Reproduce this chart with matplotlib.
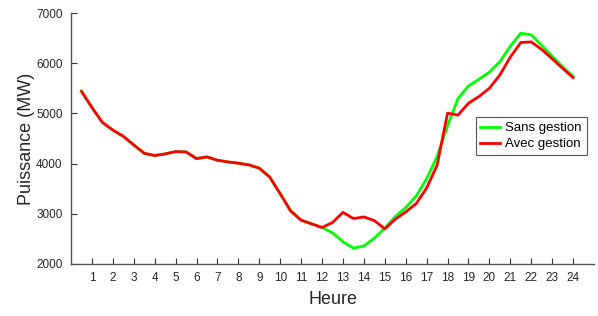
import numpy as np
import matplotlib
matplotlib.use('Agg')
import matplotlib.pyplot as plt

plt.rcParams['font.family'] = ['Liberation Sans', 'DejaVu Sans']

# demi-heures de 0.5 a 24
heures = np.arange(1, 49) * 0.5

commun = [5440, 5118, 4820, 4668, 4543, 4371, 4206, 4160, 4193, 4239, 4232, 4100,
          4133, 4067, 4034, 4008, 3975, 3909, 3731, 3400, 3057, 2872, 2800, 2727]

sans_gestion = commun + [2621, 2443, 2317, 2357, 2515, 2713, 2945, 3123, 3354, 3698,
                         4140, 4754, 5296, 5547, 5679, 5824, 6029, 6339, 6597, 6564,
                         6353, 6141, 5930, 5738]

avec_gestion = commun + [2826, 3030, 2905, 2938, 2865, 2700, 2892, 3037, 3202, 3513,
                         3968, 5005, 4966, 5203, 5336, 5501, 5766, 6122, 6412, 6425,
                         6273, 6089, 5897, 5712]

fig = plt.figure(figsize=(5.98, 3.16), dpi=100)
ax = fig.add_axes([71 / 598, 1 - 264 / 316, 523 / 598, 251 / 316])

ax.plot(heures, sans_gestion, color='#00ff00', linewidth=2, label='Sans gestion')
ax.plot(heures, avec_gestion, color='#ff0000', linewidth=2, label='Avec gestion')

ax.set_xlim(0, 25)
ax.set_ylim(2000, 7000)
ax.set_xticks(np.arange(1, 25))
ax.set_yticks(np.arange(2000, 7001, 1000))
ax.tick_params(direction='in', length=4, width=0.8, color='#333333',
               labelsize=8.5, labelcolor='#262626')
ax.tick_params(axis='x', pad=6)
ax.tick_params(axis='y', pad=6)

for s in ['top', 'right']:
    ax.spines[s].set_visible(False)
for s in ['left', 'bottom']:
    ax.spines[s].set_color('#555555')
    ax.spines[s].set_linewidth(1)

ax.set_xlabel('Heure', fontsize=13, color='#262626', labelpad=5)
ax.set_ylabel('Puissance (MW)', fontsize=13, color='#262626', labelpad=1)

leg = ax.legend(loc='upper left', bbox_to_anchor=(0.774, 0.584), fontsize=9.5,
                fancybox=False, framealpha=1, edgecolor='#555555',
                handlelength=1.5, borderpad=0.35, labelspacing=0.3,
                handletextpad=0.4, borderaxespad=0)
leg.get_frame().set_linewidth(0.8)

fig.savefig('out.png', dpi=100)
